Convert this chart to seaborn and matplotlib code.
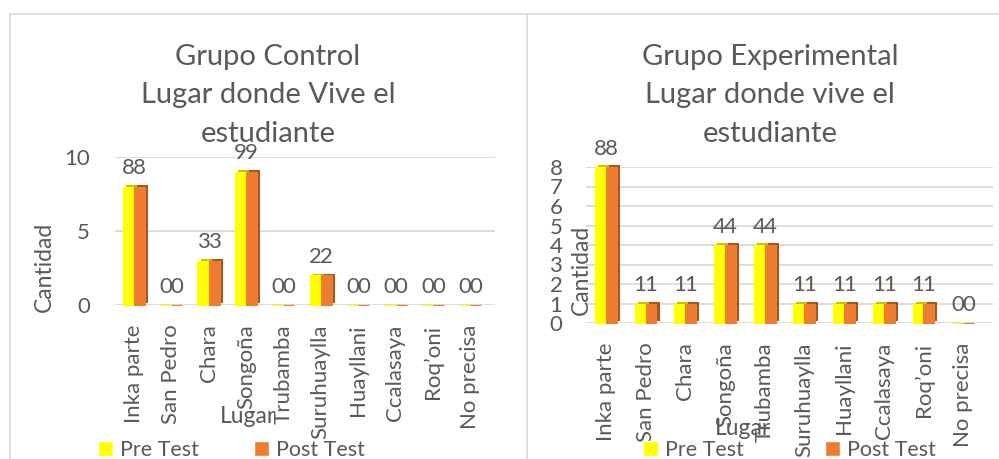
import pandas as pd
import seaborn as sns
import matplotlib.pyplot as plt
import matplotlib.patheffects as pe
from matplotlib.patches import Patch
from matplotlib.lines import Line2D

# datos
categorias = ['Inka parte', 'San Pedro', 'Chara', 'Songoña', 'Trubamba',
              'Suruhuaylla', 'Huayllani', 'Ccalasaya', 'Roq’oni', 'No precisa']
control_pre = [8, 0, 3, 9, 0, 2, 0, 0, 0, 0]
control_post = [8, 0, 3, 9, 0, 2, 0, 0, 0, 0]
exp_pre = [8, 1, 1, 4, 4, 1, 1, 1, 1, 0]
exp_post = [8, 1, 1, 4, 4, 1, 1, 1, 1, 0]
series = ['Pre Test', 'Post Test']
titulo_control = ['Grupo Control', 'Lugar donde Vive el', 'estudiante']
titulo_exp = ['Grupo Experimental', 'Lugar donde vive el', 'estudiante']

sns.set_style('white')
plt.rcParams['font.family'] = ['Lato', 'DejaVu Sans']

GRIS = '#595959'
AMARILLO = '#FFFF00'
NARANJA = '#ED7D31'
W, H = 999, 459
FS = 16


def largo(pre, post):
    return pd.DataFrame({
        'Lugar': categorias * 2,
        'Cantidad': pre + post,
        'Prueba': [series[0]] * len(pre) + [series[1]] * len(post),
    })


def panel(ax, df, ancho, ymax, ticks, pad_y):
    sns.barplot(data=df, x='Lugar', y='Cantidad', hue='Prueba', order=categorias,
                hue_order=series, palette=[AMARILLO, NARANJA], width=ancho,
                saturation=1, legend=False, ax=ax)
    sombras = {AMARILLO: '#C4C400', NARANJA: '#A9541C'}
    for cont, col in zip(ax.containers, [AMARILLO, NARANJA]):
        for bar in cont:
            bar.set_edgecolor(col)
            bar.set_linewidth(0.8)
            bar.set_clip_on(False)
            bar.set_path_effects([pe.SimplePatchShadow(offset=(2.2, 1.3), shadow_rgbFace=sombras[col], alpha=1),
                                  pe.Normal()])
        ax.bar_label(cont, labels=[f'{v:.0f}' for v in cont.datavalues], padding=6,
                     fontsize=FS, color=GRIS)
    ax.set_ylim(0, ymax)
    ax.set_yticks(ticks)
    ax.yaxis.grid(True, color='#D9D9D9', lw=1.3)
    ax.set_axisbelow(True)
    sns.despine(ax=ax, left=True, bottom=True)
    ax.tick_params(axis='y', length=0, pad=pad_y, labelsize=FS, labelcolor=GRIS)
    ax.tick_params(axis='x', length=0, pad=14, labelsize=FS, labelcolor=GRIS, rotation=90)
    ax.set_xlabel('')
    ax.set_ylabel('Cantidad', fontsize=16.5, color=GRIS)


fig = plt.figure(figsize=(W / 100, H / 100), dpi=100)

# ejes en pixeles (x0, y_top, x1, y_bottom)
def ejes(x0, ytop, x1, ybot):
    return fig.add_axes([x0 / W, 1 - ybot / H, (x1 - x0) / W, (ybot - ytop) / H])

ax1 = ejes(115, 157, 495, 305)
panel(ax1, largo(control_pre, control_post), 0.59, 10, [0, 5, 10], 18)
ax1.set_xlim(-0.5, 9.5 + 6 / 37.4)
ax1.yaxis.set_label_coords(-0.158, 0.26)

ax2 = ejes(586, 167, 993, 323)
panel(ax2, largo(exp_pre, exp_post), 0.55, 8, list(range(0, 9)), 17)
ax2.set_xlim(-0.5, 9.5 + 10 / 39.7)
ax2.yaxis.set_label_coords(0.015, 0.34)

# titulos
for lineas, cx in [(titulo_control, 268), (titulo_exp, 770)]:
    for txt, yb in zip(lineas, [65, 103, 142]):
        fig.text(cx / W, 1 - yb / H, txt, ha='center', va='baseline', fontsize=21, color=GRIS)

fig.text(248 / W, 1 - 423 / H, 'Lugar', ha='center', va='baseline', fontsize=16.5, color=GRIS)
fig.text(743 / W, 1 - 435 / H, 'Lugar', ha='center', va='baseline', fontsize=16.5, color=GRIS)

handles = [Patch(facecolor=AMARILLO), Patch(facecolor=NARANJA)]
for x0, esp in [(98, 2.6), (643, 3.8)]:
    fig.legend(handles, series, loc='center left', bbox_to_anchor=(x0 / W, 1 - 450 / H),
               ncol=2, frameon=False, handlelength=0.7, handleheight=0.7,
               handletextpad=0.3, columnspacing=esp, borderpad=0, borderaxespad=0,
               fontsize=15.5, labelcolor=GRIS)

# marcos de los graficos
for xs, ys in [([10 / W, 1], [1 - 14 / H, 1 - 14 / H]),
               ([10 / W, 10 / W], [0, 1 - 14 / H]),
               ([527 / W, 527 / W], [0, 1 - 14 / H])]:
    fig.add_artist(Line2D(xs, ys, color='#D9D9D9', lw=1.2))

fig.savefig('out.png', dpi=100)
